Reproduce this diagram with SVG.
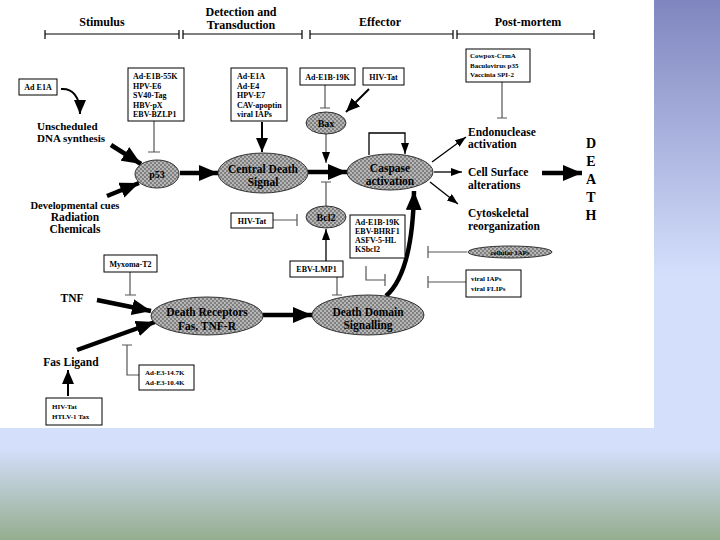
<svg xmlns="http://www.w3.org/2000/svg" width="720" height="540" viewBox="0 0 720 540">
<defs>
<linearGradient id="bg" x1="0" y1="0" x2="0" y2="1">
<stop offset="0" stop-color="#7f86bf"/>
<stop offset="0.51" stop-color="#d4dffc"/>
<stop offset="0.83" stop-color="#d4dffc"/>
<stop offset="1" stop-color="#95ad8e"/>
</linearGradient>
<pattern id="dots" width="4" height="4" patternUnits="userSpaceOnUse">
<rect width="4" height="4" fill="#b6b6b6"/>
<circle cx="1" cy="1" r="0.9" fill="#666"/>
<circle cx="3" cy="3" r="0.9" fill="#666"/>
</pattern>
<marker id="big" markerUnits="userSpaceOnUse" markerWidth="20" markerHeight="16" refX="19" refY="8" orient="auto">
<path d="M0,0 L19,8 L0,16 z" fill="#000"/>
</marker>
<marker id="mid" markerUnits="userSpaceOnUse" markerWidth="14" markerHeight="12" refX="14" refY="6" orient="auto">
<path d="M0,0 L14,6 L0,12 z" fill="#000"/>
</marker>
<marker id="small" markerUnits="userSpaceOnUse" markerWidth="11" markerHeight="8" refX="11" refY="4" orient="auto">
<path d="M0,0 L11,4 L0,8 z" fill="#000"/>
</marker>
</defs>
<style>
text{font-family:"Liberation Serif","Times New Roman",serif;font-weight:bold;fill:#000}
.h{font-size:12px;text-anchor:middle}
.lbl{font-size:11.5px}
.c{text-anchor:middle}
.bx{font-size:8px}
.sm{font-size:7px}
.el{font-size:11.5px;text-anchor:middle}
.box{fill:#fff;stroke:#000;stroke-width:1}
.ell{fill:url(#dots);stroke:#333;stroke-width:1}
.thick{stroke:#000;stroke-width:4.5;fill:none}
.thin{stroke:#000;stroke-width:1.3;fill:none}
.med{stroke:#000;stroke-width:2;fill:none}
.inh{stroke:#555;stroke-width:1.2;fill:none}
.axis{stroke:#000;stroke-width:1.2;fill:none}
.death{font-size:14px;text-anchor:middle}
</style>
<rect x="0" y="0" width="720" height="540" fill="url(#bg)"/>
<rect x="0" y="0" width="654" height="428" fill="#fff"/>

<g id="header">
<text class="h" x="102" y="26">Stimulus</text>
<text class="h" x="241" y="16">Detection and</text>
<text class="h" x="241" y="29">Transduction</text>
<text class="h" x="380" y="26">Effector</text>
<text class="h" x="528" y="26">Post-mortem</text>
<path class="axis" d="M45,34 H179 M183,34 H302 M310,34 H453 M457,34 H594 M45,30 V39 M179,30 V39 M183,30 V39 M302,30 V39 M310,30 V39 M453,30 V39 M457,30 V39 M594,30 V39"/>
</g>

<g id="connectors">
<path class="med" d="M61,89 C72,88 80,96 80,114" marker-end="url(#mid)"/>
<line class="thick" x1="111" y1="145" x2="141" y2="164" marker-end="url(#big)"/>
<line class="thick" x1="107" y1="196" x2="139" y2="183" marker-end="url(#big)"/>
<line class="thick" x1="180" y1="173" x2="218" y2="173" marker-end="url(#big)"/>
<line class="thick" x1="308" y1="172" x2="347" y2="172" marker-end="url(#big)"/>
<path class="inh" d="M154,121 V152 M148,152 H160"/>
<line class="med" x1="262" y1="122" x2="262" y2="152" marker-end="url(#mid)"/>
<path class="inh" d="M325,85 V108 M320,108 H330"/>
<line class="med" x1="369" y1="89" x2="346" y2="112" marker-end="url(#mid)"/>
<line stroke="#777" stroke-width="1.5" x1="326" y1="134" x2="326" y2="163" marker-end="url(#small)"/>
<path class="inh" d="M502,82 V118 M497,118 H507"/>
<path class="thin" d="M369,155 V133 H405 V154" marker-end="url(#small)"/>
<line class="thin" x1="432" y1="162" x2="466" y2="137" marker-end="url(#small)"/>
<line class="thin" x1="434" y1="172" x2="462" y2="172" marker-end="url(#small)"/>
<line class="thin" x1="430" y1="182" x2="458" y2="204" marker-end="url(#small)"/>
<line class="thick" x1="542" y1="173" x2="582" y2="173" marker-end="url(#big)"/>
<path class="inh" d="M273,220 H297 M297,214 V226"/>
<path class="inh" d="M326,206 V182 M321,182 H331"/>
<line class="thin" x1="326" y1="261" x2="326" y2="229" marker-end="url(#small)"/>
<path class="inh" d="M337,277 V295 M332,295 H342"/>
<path class="inh" d="M130,272 V295 M125,295 H136"/>
<path class="inh" d="M366,266 V280 H385 M385,274 V286"/>
<path class="thick" d="M386,296 C402,282 413,252 414,191" marker-end="url(#big)"/>
<path class="inh" d="M467,252 H428 M428,246 V258"/>
<path class="inh" d="M466,282 H428 M428,276 V288"/>
<line class="thick" x1="97" y1="300" x2="151" y2="311" marker-end="url(#big)"/>
<line class="thick" x1="77" y1="350" x2="155" y2="322" marker-end="url(#big)"/>
<line class="med" x1="68" y1="396" x2="68" y2="370" marker-end="url(#mid)"/>
<path class="inh" d="M139,375 H127 V345 M122,345 H132"/>
<line class="thick" x1="263" y1="315" x2="312" y2="315" marker-end="url(#big)"/>
</g>

<g id="adE1A"><rect class="box" x="19" y="79" width="38" height="16"/><text class="bx c" x="38" y="90">Ad E1A</text></g>
<g id="unscheduled"><text class="lbl" x="37" y="130" style="font-size:11px">Unscheduled</text><text class="lbl" x="37" y="142" style="font-size:11px">DNA synthesis</text></g>
<g id="box55K"><rect class="box" x="128" y="68" width="56" height="53"/>
<text class="bx" x="133" y="79">Ad-E1B-55K</text><text class="bx" x="133" y="88.5">HPV-E6</text><text class="bx" x="133" y="98">SV40-Tag</text><text class="bx" x="133" y="107.5">HBV-pX</text><text class="bx" x="133" y="117">EBV-BZLP1</text></g>
<g id="boxE1A"><rect class="box" x="231" y="68" width="56" height="53"/>
<text class="bx" x="237" y="79">Ad-E1A</text><text class="bx" x="237" y="88.5">Ad-E4</text><text class="bx" x="237" y="98">HPV-E7</text><text class="bx" x="237" y="107.5">CAV-apoptin</text><text class="bx" x="237" y="117">viral IAPs</text></g>
<g id="box19K"><rect class="box" x="300" y="68" width="55" height="17"/><text class="bx c" x="327.5" y="79.5">Ad-E1B-19K</text></g>
<g id="hivTat1"><rect class="box" x="363" y="68" width="41" height="17"/><text class="bx c" x="383.5" y="79.5">HIV-Tat</text></g>
<g id="bax"><ellipse class="ell" cx="326" cy="123" rx="20" ry="11"/><text class="el" x="326" y="127" style="font-size:10px">Bax</text></g>
<g id="cowpox"><rect class="box" x="466" y="49" width="64" height="33"/>
<text class="sm" x="470" y="58">Cowpox-CrmA</text><text class="sm" x="470" y="68">Baculovirus p35</text><text class="sm" x="470" y="77">Vaccinia SPI-2</text></g>
<g id="endonuclease"><text class="lbl" x="468" y="136">Endonuclease</text><text class="lbl" x="468" y="148">activation</text></g>
<g id="death"><text class="death" x="591" y="148">D</text><text class="death" x="591" y="166">E</text><text class="death" x="591" y="184">A</text><text class="death" x="591" y="202">T</text><text class="death" x="591" y="220">H</text></g>
<g id="p53"><ellipse class="ell" cx="157" cy="174" rx="22" ry="14"/><text class="el" x="157" y="178" style="font-size:10px">p53</text></g>
<g id="cds"><ellipse class="ell" cx="263" cy="173" rx="45" ry="20"/><text class="el" x="263" y="173">Central Death</text><text class="el" x="263" y="186">Signal</text></g>
<g id="caspase"><ellipse class="ell" cx="390" cy="172" rx="43" ry="18"/><text class="el" x="390" y="172">Caspase</text><text class="el" x="390" y="185">activation</text></g>
<g id="cellsurface"><text class="lbl" x="468" y="176">Cell Surface</text><text class="lbl" x="468" y="189">alterations</text></g>
<g id="cytoskeletal"><text class="lbl" x="468" y="217">Cytoskeletal</text><text class="lbl" x="468" y="230">reorganization</text></g>
<g id="devcues"><text class="lbl c" x="75" y="209" style="font-size:10.5px">Developmental cues</text><text class="lbl c" x="75" y="221">Radiation</text><text class="lbl c" x="75" y="233">Chemicals</text></g>
<g id="hivTat2"><rect class="box" x="231" y="213" width="42" height="15"/><text class="bx c" x="252" y="223.5">HIV-Tat</text></g>
<g id="bcl2"><ellipse class="ell" cx="326" cy="217" rx="20" ry="11"/><text class="el" x="326" y="221" style="font-size:10px">Bcl2</text></g>
<g id="box19K2"><rect class="box" x="350" y="215" width="55" height="43"/>
<text class="bx" x="355" y="225">Ad-E1B-19K</text><text class="bx" x="355" y="234">EBV-BHRF1</text><text class="bx" x="355" y="243">ASFV-5-HL</text><text class="bx" x="355" y="252">KSbcl2</text></g>
<g id="ebvlmp1"><rect class="box" x="290" y="261" width="53" height="16"/><text class="bx c" x="316.5" y="272">EBV-LMP1</text></g>
<g id="myxoma"><rect class="box" x="104" y="255" width="53" height="17"/><text class="bx c" x="130.5" y="266.5">Myxoma-T2</text></g>
<g id="cellularIAPs"><ellipse class="ell" cx="510" cy="252" rx="42" ry="6"/><text class="sm c" x="510" y="255">cellular IAPs</text></g>
<g id="viralIAPs"><rect class="box" x="466" y="270" width="55" height="27"/><text class="sm" x="471" y="281">viral IAPs</text><text class="sm" x="471" y="291">viral FLIPs</text></g>
<g id="tnf"><text class="lbl c" x="72" y="302">TNF</text></g>
<g id="deathReceptors"><ellipse class="ell" cx="207" cy="316" rx="56" ry="19"/><text class="el" x="207" y="316">Death Receptors</text><text class="el" x="207" y="330">Fas, TNF-R</text></g>
<g id="deathDomain"><ellipse class="ell" cx="368" cy="315" rx="56" ry="20"/><text class="el" x="368" y="316">Death Domain</text><text class="el" x="368" y="329">Signalling</text></g>
<g id="fasLigand"><text class="lbl c" x="71" y="366">Fas Ligand</text></g>
<g id="adE3"><rect class="box" x="139" y="365" width="55" height="25"/><text class="sm" x="145" y="375">Ad-E3-14.7K</text><text class="sm" x="145" y="385">Ad-E3-10.4K</text></g>
<g id="htlv"><rect class="box" x="46" y="398" width="56" height="27"/><text class="sm" x="52" y="409">HIV-Tat</text><text class="sm" x="52" y="419">HTLV-1 Tax</text></g>
</svg>
